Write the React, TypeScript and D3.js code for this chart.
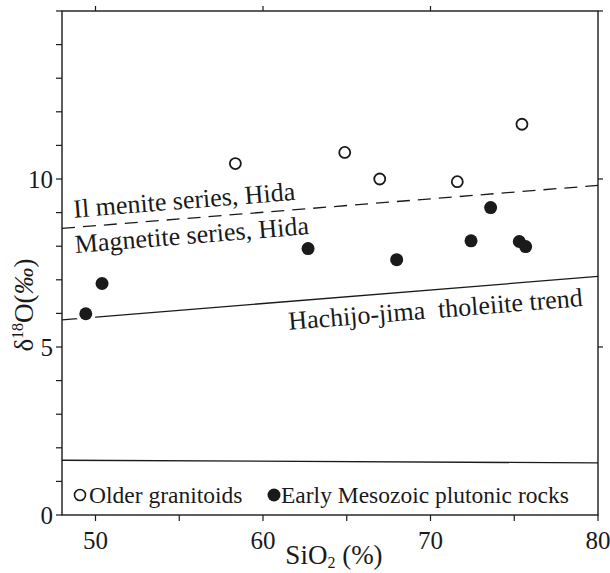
import React from 'react';
import * as d3 from 'd3';

// values
const olderSiO2 = [58.35, 64.88, 66.97, 71.6, 75.46];
const olderD18O = [10.46, 10.79, 10.0, 9.92, 11.63];
const mesozoicSiO2 = [49.42, 50.39, 62.69, 67.98, 72.42, 73.59, 75.3, 75.68];
const mesozoicD18O = [5.99, 6.89, 7.93, 7.6, 8.16, 9.15, 8.14, 7.99];

const ilmeniteLine: [number, number][] = [[48, 8.53], [80, 9.81]];
const hachijoLine: [number, number][] = [[48, 5.81], [80, 7.1]];
const lowerLine: [number, number][] = [[48, 1.63], [80, 1.55]];

const xTickLabels = [50, 60, 70, 80];
const yTickLabels = [0, 5, 10];

const W = 610;
const H = 573;
const ink = '#1a1a1a';
const serif = '"Liberation Serif", "DejaVu Serif", serif';

const x = d3.scaleLinear().domain([48, 80]).range([62, 598]);
const y = d3.scaleLinear().domain([0, 15]).range([515, 11]);
const line = d3.line<[number, number]>().x(d => x(d[0])).y(d => y(d[1]));

function angleOf(l: [number, number][]) {
  const dx = x(l[1][0]) - x(l[0][0]);
  const dy = y(l[1][1]) - y(l[0][1]);
  return (Math.atan2(dy, dx) * 180) / Math.PI;
}

function Label({ at, line: l, text }: { at: [number, number]; line: [number, number][]; text: string }) {
  const px = x(at[0]);
  const py = y(at[1]);
  return (
    <text x={px} y={py} transform={`rotate(${angleOf(l)},${px},${py})`} fontSize={26} fontFamily={serif} fill={ink}
      style={{ whiteSpace: 'pre' }}>
      {text}
    </text>
  );
}

export default function App() {
  const [x0, x1] = x.range();
  const [y0, y1] = y.range();
  const mesozoic = mesozoicSiO2.map((s, i) => [s, mesozoicD18O[i]]);
  const older = olderSiO2.map((s, i) => [s, olderD18O[i]]);

  return (
    <svg width={W} height={H} style={{ position: 'absolute', left: 0, top: 0, background: '#fff' }}>
      {/* frame */}
      <rect x={x0} y={y1} width={x1 - x0} height={y0 - y1} fill="none" stroke={ink} strokeWidth={1.4} />

      {/* left ticks every unit */}
      {d3.range(0, 16).map(v => (
        <line key={'l' + v} x1={x0 - 6} x2={x0} y1={y(v)} y2={y(v)} stroke={ink} strokeWidth={1.2} />
      ))}
      {/* right ticks */}
      {[5, 10, 15].map(v => (
        <line key={'r' + v} x1={x1} x2={x1 + 5} y1={y(v)} y2={y(v)} stroke={ink} strokeWidth={1.2} />
      ))}
      {/* bottom ticks */}
      {d3.range(50, 81, 5).map(v => (
        <line key={'b' + v} x1={x(v)} x2={x(v)} y1={y0} y2={y0 + 6} stroke={ink} strokeWidth={1.2} />
      ))}
      {/* top ticks */}
      {[50, 60, 70].map(v => (
        <line key={'t' + v} x1={x(v)} x2={x(v)} y1={y1} y2={y1 - 5} stroke={ink} strokeWidth={1.2} />
      ))}

      {yTickLabels.map(v => (
        <text key={'yl' + v} x={x0 - 9} y={y(v)} dy="0.35em" textAnchor="end" fontSize={25} fontFamily={serif} fill={ink}>{v}</text>
      ))}
      {xTickLabels.map(v => (
        <text key={'xl' + v} x={x(v)} y={549} textAnchor="middle" fontSize={25} fontFamily={serif} fill={ink}>{v}</text>
      ))}

      {/* axis titles */}
      <text x={(x0 + x1) / 2 + 4} y={564} textAnchor="middle" fontSize={27} fontFamily={serif} fill={ink}>
        SiO<tspan fontSize={16} dy={4}>2</tspan><tspan dy={-4}> (%)</tspan>
      </text>
      <text transform={`translate(33,${(y0 + y1) / 2 + 42}) rotate(-90)`} textAnchor="middle" fontSize={27} fontFamily={serif} fill={ink}>
        δ<tspan fontSize={16} dy={-10}>18</tspan><tspan dy={10}>O(</tspan><tspan fontStyle="italic">‰</tspan>)
      </text>

      {/* reference lines */}
      <path d={line(ilmeniteLine) || ''} fill="none" stroke={ink} strokeWidth={1.3} strokeDasharray="13,8" />
      <path d={line(hachijoLine) || ''} fill="none" stroke={ink} strokeWidth={1.3} />
      <path d={line(lowerLine) || ''} fill="none" stroke={ink} strokeWidth={1.3} />

      {/* white halos under the filled points */}
      {mesozoic.map((d, i) => (
        <circle key={'h' + i} cx={x(d[0])} cy={y(d[1])} r={10} fill="#fff" />
      ))}

      <Label at={[48.72, 8.85]} line={ilmeniteLine} text="Il menite series, Hida" />
      <Label at={[48.81, 7.8]} line={ilmeniteLine} text="Magnetite series, Hida" />
      <Label at={[61.55, 5.51]} line={hachijoLine} text="Hachijo-jima  tholeiite trend" />

      {older.map((d, i) => (
        <circle key={'o' + i} cx={x(d[0])} cy={y(d[1])} r={5.5} fill="#fff" stroke={ink} strokeWidth={1.8} />
      ))}
      {mesozoic.map((d, i) => (
        <circle key={'m' + i} cx={x(d[0])} cy={y(d[1])} r={6.5} fill={ink} />
      ))}

      {/* legend */}
      <circle cx={80} cy={495} r={5.5} fill="#fff" stroke={ink} strokeWidth={1.6} />
      <text x={89} y={503} fontSize={23.5} fontFamily={serif} fill={ink}>Older granitoids</text>
      <circle cx={274} cy={495} r={6.5} fill={ink} />
      <text x={281} y={503} fontSize={23.5} fontFamily={serif} fill={ink}>Early Mesozoic plutonic rocks</text>
    </svg>
  );
}
